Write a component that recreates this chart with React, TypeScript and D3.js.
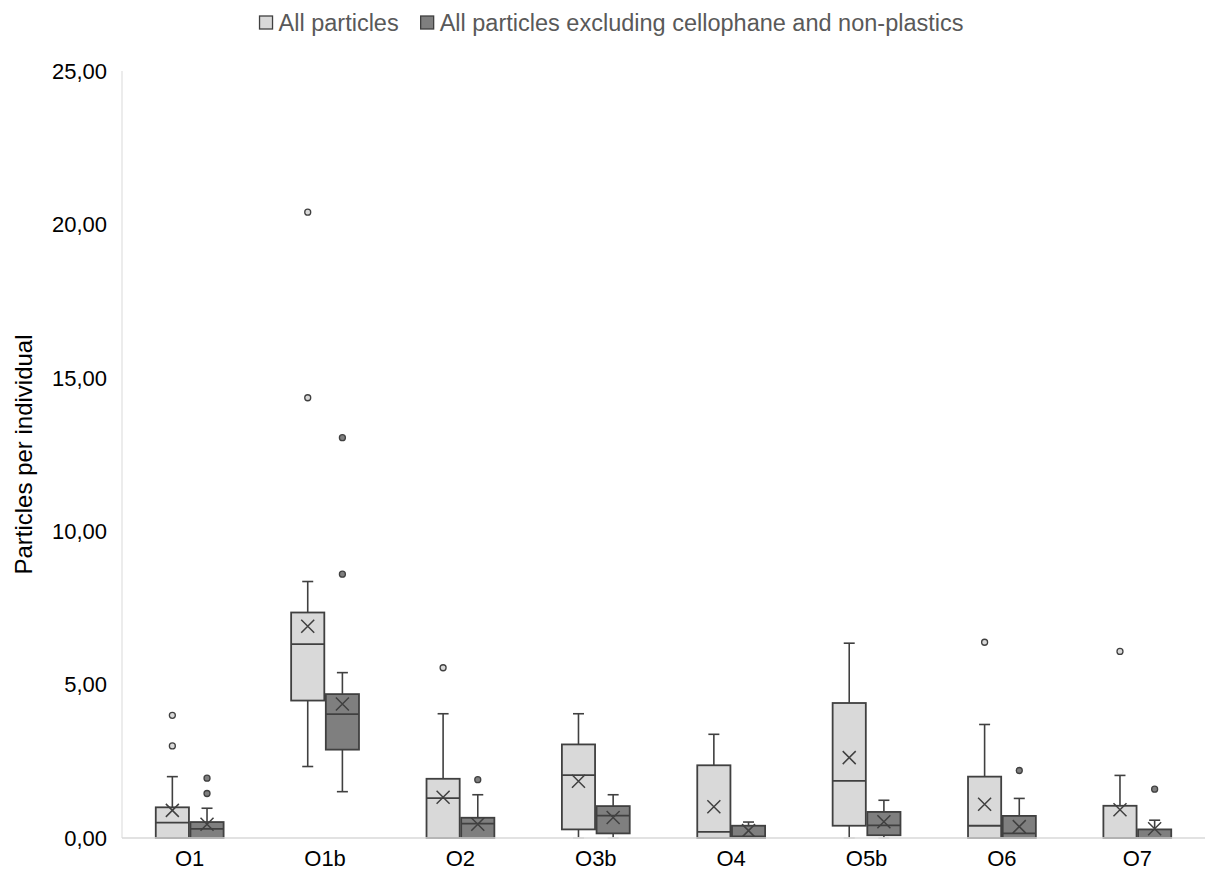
import React from 'react';
import * as d3 from 'd3';

const categories = ['O1', 'O1b', 'O2', 'O3b', 'O4', 'O5b', 'O6', 'O7'];
const seriesNames = ['All particles', 'All particles excluding cellophane and non-plastics'];

// All particles
const allMin = [0, 2.33, 0, 0, 0, 0, 0, 0];
const allQ1 = [0, 4.48, 0, 0.28, 0, 0.4, 0, 0];
const allMedian = [0.5, 6.32, 1.3, 2.05, 0.2, 1.86, 0.4, 0];
const allQ3 = [1.0, 7.35, 1.93, 3.05, 2.37, 4.4, 2.0, 1.05];
const allMax = [2.0, 8.36, 4.05, 4.05, 3.38, 6.35, 3.7, 2.04];
const allMean = [0.9, 6.9, 1.33, 1.85, 1.02, 2.62, 1.1, 0.92];
const allOutliers = [[3, 4], [14.35, 20.4], [5.55], [], [], [], [6.38], [6.08]];

// All particles excluding cellophane and non-plastics
const exMin = [0, 1.51, 0, 0, 0, 0, 0, 0];
const exQ1 = [0, 2.88, 0, 0.15, 0, 0.09, 0, 0];
const exMedian = [0.3, 4.04, 0.47, 0.73, 0.05, 0.41, 0.15, 0];
const exQ3 = [0.52, 4.69, 0.66, 1.04, 0.4, 0.85, 0.72, 0.28];
const exMax = [0.97, 5.39, 1.41, 1.41, 0.52, 1.23, 1.29, 0.58];
const exMean = [0.45, 4.37, 0.45, 0.67, 0.24, 0.53, 0.37, 0.3];
const exOutliers = [[1.45, 1.95], [8.6, 13.05], [1.9], [], [], [], [2.2], [1.59]];

const yTicks = [0, 5, 10, 15, 20, 25];

const fills = ['#d9d9d9', '#7f7f7f'];
const stroke = '#404040';

const W = 1208;
const H = 875;
const left = 122;
const right = 1205;
const top = 71;
const bottom = 838;

export default function App() {
  const x = d3.scaleBand<string>().domain(categories).range([left, right]);
  const y = d3.scaleLinear().domain([0, 25]).range([bottom, top]);
  const bw = x.bandwidth();
  const boxW = bw * 0.245;
  const gap = 1.5;

  const series = [
    { min: allMin, q1: allQ1, med: allMedian, q3: allQ3, max: allMax, mean: allMean, out: allOutliers },
    { min: exMin, q1: exQ1, med: exMedian, q3: exQ3, max: exMax, mean: exMean, out: exOutliers },
  ];

  const fmt = (v: number) => d3.format('.2f')(v).replace('.', ',');
  const font = 'Liberation Sans, Arial, sans-serif';

  // legend layout
  const lf = 23.5;
  const sq = 13;
  const t1w = 5.112 * lf;
  const t2w = 22.29 * lf;
  const lw = sq + 6 + t1w + 22 + sq + 6 + t2w;
  const lx = 611.5 - lw / 2;
  const lx2 = lx + sq + 6 + t1w + 22;

  return (
    <svg width={W} height={H} style={{ position: 'absolute', left: 0, top: 0, background: '#fff' }} fontFamily={font}>
      <rect x={0} y={0} width={W} height={H} fill="#fff" />
      {/* axes */}
      <line x1={left} x2={left} y1={top} y2={bottom} stroke="#d9d9d9" strokeWidth={1} />
      {yTicks.map((t) => (
        <text key={t} x={107} y={y(t)} dy="0.35em" textAnchor="end" fontSize={22} fill="#000">
          {fmt(t)}
        </text>
      ))}
      <text transform={`translate(32, ${(top + bottom) / 2}) rotate(-90)`} textAnchor="middle" fontSize={24} fill="#000">
        Particles per individual
      </text>
      {categories.map((c) => (
        <text key={c} x={x(c)! + bw / 2} y={866} textAnchor="middle" fontSize={22} fill="#000">
          {c}
        </text>
      ))}
      {/* boxes */}
      {series.map((s, si) =>
        categories.map((c, i) => {
          const cx0 = x(c)! + bw / 2;
          const bx = si === 0 ? cx0 - gap / 2 - boxW : cx0 + gap / 2;
          const mx = bx + boxW / 2;
          const capW = 11;
          const mean = s.mean[i];
          const ms = 6.5;
          return (
            <g key={`${si}-${c}`}>
              <line x1={mx} x2={mx} y1={y(s.max[i])} y2={y(s.q3[i])} stroke={stroke} strokeWidth={1.6} />
              <line x1={mx} x2={mx} y1={y(s.q1[i])} y2={y(s.min[i])} stroke={stroke} strokeWidth={1.6} />
              <line x1={mx - capW / 2} x2={mx + capW / 2} y1={y(s.max[i])} y2={y(s.max[i])} stroke={stroke} strokeWidth={1.6} />
              <line x1={mx - capW / 2} x2={mx + capW / 2} y1={y(s.min[i])} y2={y(s.min[i])} stroke={s.min[i] === 0 ? '#c8c8c8' : stroke} strokeWidth={1.6} />
              <rect x={bx} y={y(s.q3[i])} width={boxW} height={Math.max(0, y(s.q1[i]) - y(s.q3[i]))} fill={fills[si]} stroke={stroke} strokeWidth={1.8} />
              <line x1={bx} x2={bx + boxW} y1={y(s.med[i])} y2={y(s.med[i])} stroke={stroke} strokeWidth={1.8} />
              <path d={`M${mx - ms},${y(mean) - ms}L${mx + ms},${y(mean) + ms}M${mx - ms},${y(mean) + ms}L${mx + ms},${y(mean) - ms}`} stroke={stroke} strokeWidth={1.5} fill="none" />
              {s.out[i].map((o, oi) => (
                <circle key={oi} cx={mx} cy={y(o)} r={3} fill={fills[si]} stroke={stroke} strokeWidth={1.3} />
              ))}
            </g>
          );
        })
      )}
      <line x1={left} x2={right} y1={bottom} y2={bottom} stroke="#d9d9d9" strokeWidth={1.5} />
      {/* legend */}
      <g fontSize={lf} fill="#595959">
        <rect x={lx} y={16} width={sq} height={sq} fill={fills[0]} stroke={stroke} strokeWidth={1.3} />
        <text x={lx + sq + 6} y={31}>{seriesNames[0]}</text>
        <rect x={lx2} y={16} width={sq} height={sq} fill={fills[1]} stroke={stroke} strokeWidth={1.3} />
        <text x={lx2 + sq + 6} y={31}>{seriesNames[1]}</text>
      </g>
    </svg>
  );
}
